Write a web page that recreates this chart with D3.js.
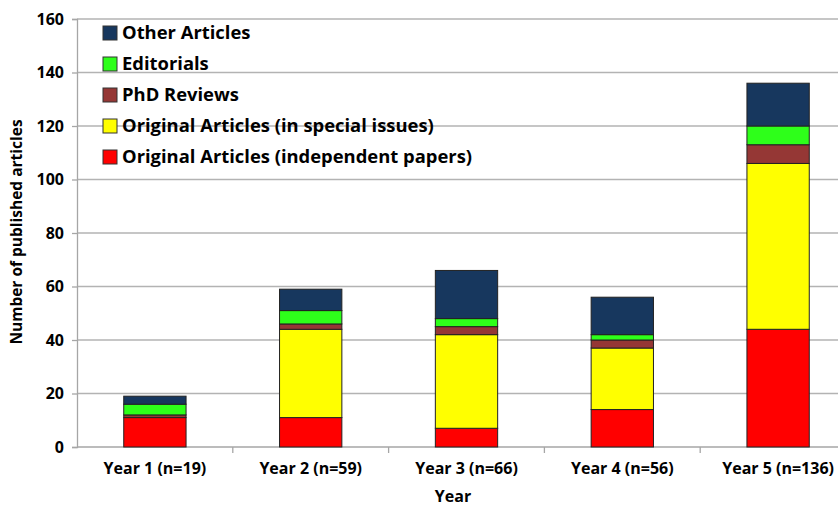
<!DOCTYPE html>
<html><head><meta charset="utf-8">
<script src="https://cdn.jsdelivr.net/npm/d3@7"></script>
<style>body{margin:0;background:#fff}svg{display:block}text{font-family:"Open Sans",sans-serif;font-weight:bold;fill:#000}</style>
</head><body><svg id="c" width="838" height="507"></svg>
<script>
const categories = ["Year 1 (n=19)","Year 2 (n=59)","Year 3 (n=66)","Year 4 (n=56)","Year 5 (n=136)"];
const seriesNames = ["Original Articles (independent papers)","Original Articles (in special issues)","PhD Reviews","Editorials","Other Articles"];
const independent = [11,11,7,14,44];
const special = [0,33,35,23,62];
const phd = [1,2,3,3,7];
const editorials = [4,5,3,2,7];
const other = [3,8,18,14,16];
const yTicks = [0,20,40,60,80,100,120,140,160];
const colors = ["#ff0000","#ffff00","#953735","#2eff1a","#17375e"];

const seriesVals = [independent, special, phd, editorials, other];
const rows = categories.map((c,i)=>{const r={cat:c}; seriesNames.forEach((s,j)=>r[s]=seriesVals[j][i]); return r;});
const stack = d3.stack().keys(seriesNames)(rows);

const svg = d3.select("#c");
const x = d3.scaleBand().domain(categories).range([77,856]).paddingInner(0.6).paddingOuter(0.3);
const y = d3.scaleLinear().domain([0,160]).range([447,19]);
const FF = "'Open Sans', sans-serif";

svg.append("g").selectAll("line").data(yTicks.slice(1)).join("line")
  .attr("x1",77).attr("x2",838).attr("y1",d=>y(d)).attr("y2",d=>y(d))
  .attr("stroke","#b3b3b3").attr("stroke-width",1.3);

const ya = svg.append("g").attr("transform","translate(77,0)")
  .call(d3.axisLeft(y).tickValues(yTicks).tickSize(5).tickPadding(8));
ya.select(".domain").attr("stroke","#a6a6a6").attr("stroke-width",1.3);
ya.selectAll(".tick line").attr("stroke","#a6a6a6").attr("stroke-width",1.3);
ya.selectAll("text").style("font-size","16px").style("font-family",FF).style("font-weight","bold").attr("fill","#000");

const xa = svg.append("g").attr("transform","translate(0,447)")
  .call(d3.axisBottom(x).tickSize(0).tickPadding(16));
xa.select(".domain").attr("d","M77,0H856").attr("stroke","#a6a6a6").attr("stroke-width",1.3);
xa.selectAll("text").style("font-size","16px").style("font-family",FF).style("font-weight","bold").attr("fill","#000");
const bounds = categories.map(c=>x(c)+x.bandwidth()/2+x.step()/2);
svg.append("g").selectAll("line").data(bounds).join("line")
  .attr("x1",d=>d).attr("x2",d=>d).attr("y1",447).attr("y2",453)
  .attr("stroke","#a6a6a6").attr("stroke-width",1.3);

svg.append("g").selectAll("g").data(stack).join("g").attr("fill",(d,i)=>colors[i])
  .selectAll("rect").data(d=>d).join("rect")
  .attr("x",d=>x(d.data.cat)).attr("width",x.bandwidth())
  .attr("y",d=>y(d[1])).attr("height",d=>y(d[0])-y(d[1]))
  .attr("stroke","#222").attr("stroke-width",1);

const leg = svg.append("g");
const order = [4,3,2,1,0];
order.forEach((si,k)=>{
  const cy = 33 + k*31;
  leg.append("rect").attr("x",103).attr("y",cy-7).attr("width",14).attr("height",14)
    .attr("fill",colors[si]).attr("stroke","#333").attr("stroke-width",1);
  leg.append("text").attr("x",122).attr("y",cy).attr("dy","0.35em")
    .style("font-size","18.4px").text(seriesNames[si]);
});

svg.append("text").attr("transform","translate(22,232) rotate(-90)").attr("text-anchor","middle")
  .style("font-size","15.5px").text("Number of published articles");
svg.append("text").attr("x",453).attr("y",502).attr("text-anchor","middle")
  .style("font-size","16px").text("Year");
</script></body></html>
